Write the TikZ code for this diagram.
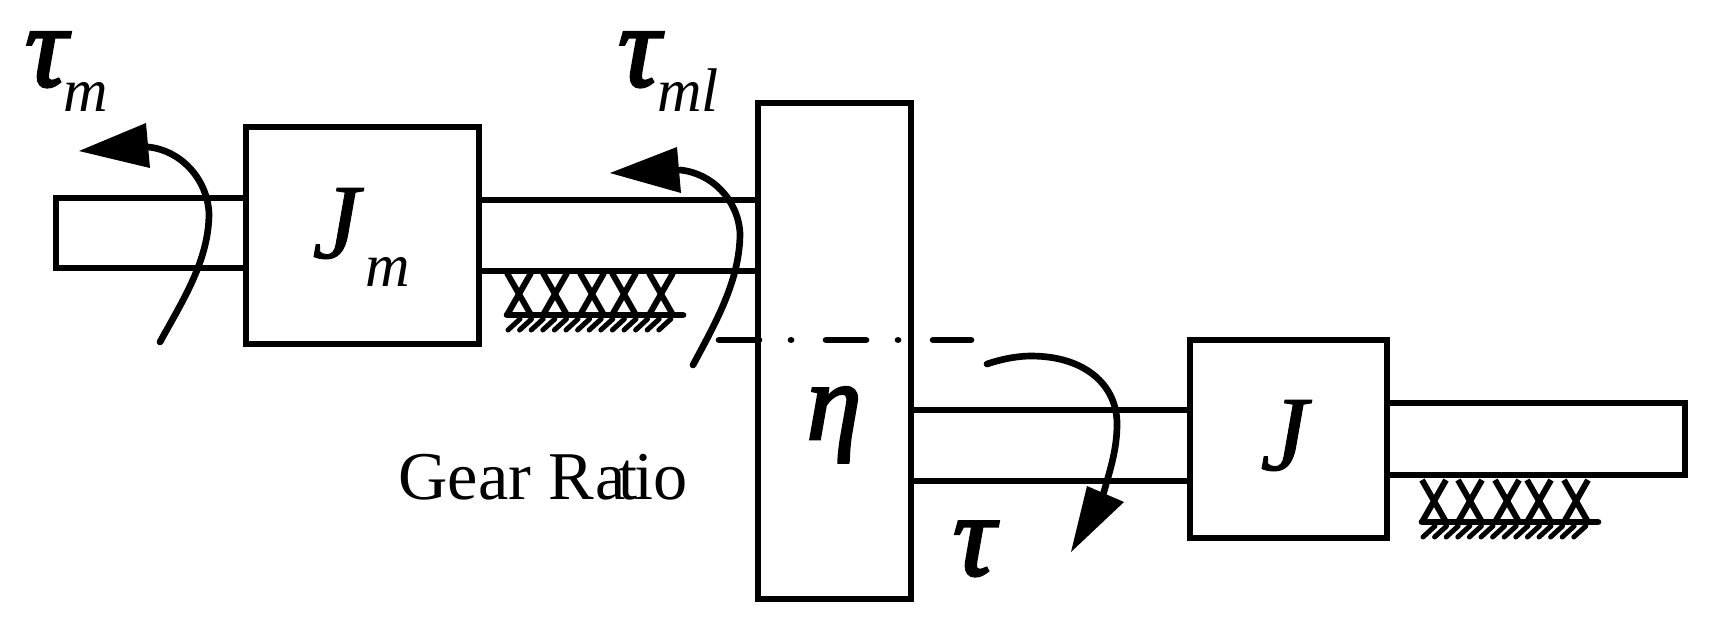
\documentclass[tikz,border=0pt]{standalone}
\usepackage{fontspec}
\setmainfont{Liberation Serif}
\newfontfamily\fbfam[FakeBold=2.5]{Liberation Serif Italic}
\newfontfamily\fjfam[FakeBold=0.8]{Liberation Serif Italic}
\newcommand{\fs}[1]{\fontsize{#1}{#1}\selectfont}
\tikzset{
  x=0.6pt,y=-0.6pt,
  ln/.style={line width=4.1pt,line join=miter},
  blk/.style={draw,line width=4.1pt,fill=white,rectangle,inner sep=0pt,outer sep=0pt},
  curve/.style={line width=4pt,line cap=round},
  head/.style={fill=black,draw=none},
  hatchline/.style={line width=3pt,line cap=round},
  crossline/.style={line width=3.6pt},
  baseline/.style={line width=4pt,line cap=round},
  lab/.style={inner sep=0pt,outer sep=0pt,anchor=base},
  taufont/.style={font=\fs{70}\fbfam},
  subfont/.style={font=\fs{37}\itshape},
  bigfont/.style={font=\fs{64}\fjfam},
}
\newcommand{\grounded}[2]{%
  \begin{scope}[shift={(#1,#2)}]
    \foreach \c in {519,555,592,624,661}{
      \draw[crossline] (\c-12,273) -- (\c+12,315);
      \draw[crossline] (\c+12,273) -- (\c-12,315);
    }
    \draw[baseline] (507,315) -- (683,315);
    \foreach \h in {0,...,13}{
      \draw[hatchline] (520+\h*11.6,319) -- (508+\h*11.6,330);
    }
  \end{scope}}
\begin{document}
\begin{tikzpicture}
\useasboundingbox (0,0) rectangle (1731,624);
\grounded{0}{0}
\grounded{915}{207}
\node[blk,minimum width=233*0.6pt,minimum height=217*0.6pt] (Jm) at (362.5,235.5) {};
\node[blk,minimum width=153*0.6pt,minimum height=496*0.6pt] (gear) at (834.5,351) {};
\node[blk,minimum width=197*0.6pt,minimum height=198*0.6pt] (J) at (1288.5,439) {};
\draw[ln] (Jm.west |- 0,198) -- (56,198) -- (56,268) -- (Jm.west |- 0,268);
\draw[ln] (Jm.east |- 0,200) -- (gear.west |- 0,200);
\draw[ln] (Jm.east |- 0,271) -- (gear.west |- 0,271);
\draw[ln] (gear.east |- 0,410) -- (J.west |- 0,410);
\draw[ln] (gear.east |- 0,481) -- (J.west |- 0,481);
\draw[ln] (J.east |- 0,403) -- (1685,403) -- (1685,475) -- (J.east |- 0,475);
\coordinate (axisa) at (719,340);
\coordinate (axisb) at (971,340);
\draw[line width=4pt,line cap=round,dash pattern=on 24pt off 19.2pt on 0.01pt off 21pt] (axisa) -- (axisb);
\coordinate (t1s) at (160,342);
\coordinate (t1e) at (148,147);
\coordinate (t2s) at (693,365);
\coordinate (t2e) at (680,170);
\coordinate (t3s) at (987,364);
\coordinate (t3e) at (1103,495);
\draw[curve] (t1s) .. controls (183,300) and (209,260) .. (209,213) .. controls (207,178) and (180,150) .. (t1e);
\fill[head] (79,151) -- (146,123) -- (150,168) -- cycle;
\draw[curve] (t2s) .. controls (716,322) and (740,280) .. (740,233) .. controls (738,200) and (712,173) .. (t2e);
\fill[head] (610,173) -- (677,147) -- (681,193) -- cycle;
\draw[curve] (t3s) .. controls (1005,358) and (1020,356) .. (1031,356) .. controls (1085,356) and (1117,385) .. (1117,424) .. controls (1117,450) and (1110,470) .. (t3e);
\fill[head] (1071,552) -- (1087,486) -- (1124,502) -- cycle;
\node[lab,taufont] (taum) at (46,86) {τ};
\node[lab,subfont] (taumsub) at (86,111) {m};
\node[lab,taufont] (tauml) at (639,86) {τ};
\node[lab,subfont] (taumlsub) at (688,111) {ml};
\node[lab,bigfont] (Jmj) at (336,258) {J};
\node[lab,subfont] (Jmsub) at (388,286) {m};
\node[lab,font=\fs{66}\fbfam] (eta) at (834,439) {η};
\node[lab,font=\fs{41}] (ratio) at (543,499) {Gear R\kern1pt a\kern-4.5pt t\kern-2pt io};
\node[lab,taufont] (tau) at (974,575) {τ};
\node[lab,bigfont] (Jj) at (1284,470) {J};
\end{tikzpicture}
\end{document}
